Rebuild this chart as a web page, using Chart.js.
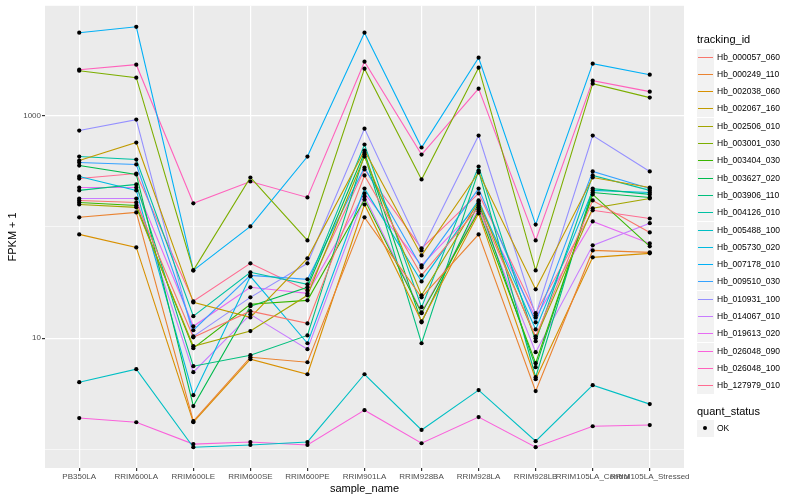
<!DOCTYPE html>
<html>
<head>
<meta charset="utf-8">
<script src="https://cdn.jsdelivr.net/npm/chart.js@4.4.0/dist/chart.umd.min.js"></script>
<style>
  body { margin: 0; background: #fff; font-family: "Liberation Sans", Arial, sans-serif; }
  #wrap { position: relative; width: 800px; height: 500px; }
  #legend { position: absolute; left: 0; top: 0; width: 800px; height: 500px; pointer-events: none; }
  .ttl { position: absolute; left: 697px; font-size: 11px; color: #000; }
  .key { position: absolute; left: 697px; width: 17px; height: 17px; background: #F2F2F2; }
  .key i { position: absolute; left: 1px; top: 8px; width: 15px; height: 1px; }
  .key b { position: absolute; left: 6px; top: 6px; width: 4px; height: 4px; border-radius: 2px; background: #000; }
  .lab { position: absolute; left: 717px; font-size: 8.5px; color: #000; line-height: 17px; }
</style>
</head>
<body>
<div id="wrap">
  <canvas id="chart" width="800" height="500"></canvas>
  <div id="legend"></div>
</div>
<script>
const categories = ["PB350LA", "RRIM600LA", "RRIM600LE", "RRIM600SE", "RRIM600PE", "RRIM901LA",
  "RRIM928BA", "RRIM928LA", "RRIM928LB", "RRIM105LA_Control", "RRIM105LA_Stressed"];
const yTickLabels = ["10", "1000"];
const statusLevels = ["OK"];

const trackingIds = ["Hb_000057_060", "Hb_000249_110", "Hb_002038_060", "Hb_002067_160", "Hb_002506_010",
  "Hb_003001_030", "Hb_003404_030", "Hb_003627_020", "Hb_003906_110", "Hb_004126_010",
  "Hb_005488_100", "Hb_005730_020", "Hb_007178_010", "Hb_009510_030", "Hb_010931_100",
  "Hb_014067_010", "Hb_019613_020", "Hb_026048_090", "Hb_026048_100", "Hb_127979_010"];

// FPKM + 1 per sample, one array per gene
const hb000057 = [173, 166, 10.2, 17.5, 13.6, 290, 36.7, 150, 10.4, 173, 89.3];
const hb000249 = [122, 135, 1.80, 6.75, 6.09, 122, 23.3, 85.7, 3.35, 61.5, 59.1];
const hb002038 = [85.7, 65.5, 1.76, 6.48, 4.75, 159, 14.2, 132, 4.29, 53.3, 57.9];
const hb002067 = [395, 573, 21.0, 15.4, 52.2, 486, 55.5, 308, 27.5, 278, 226];
const hb002506 = [159, 150, 8.48, 11.6, 24.3, 429, 24.3, 169, 10.0, 147, 180];
const hb003001 = [2533, 2193, 40.7, 278, 75.7, 2640, 267, 2696, 40.7, 1937, 1451];
const hb003404 = [166, 156, 8.14, 20.2, 21.9, 176, 16.8, 138, 5.97, 196, 66.9];
const hb003627 = [356, 296, 2.46, 19.4, 28.7, 466, 13.9, 163, 5.50, 204, 184];
const hb003906 = [213, 241, 5.61, 7.04, 10.6, 447, 9.02, 321, 4.47, 221, 196];
const hb004126 = [429, 403, 15.8, 39.1, 30.5, 550, 19.0, 349, 9.40, 290, 213];
const hb005488 = [4.03, 5.27, 1.05, 1.10, 1.17, 4.75, 1.50, 3.42, 1.19, 3.79, 2.56];
const hb005730 = [284, 213, 3.08, 36.0, 9.02, 221, 32.4, 173, 12.0, 213, 204];
const hb007178 = [5560, 6280, 40.7, 101, 429, 5560, 517, 3313, 105, 2928, 2332];
const hb009510 = [379, 364, 11.8, 36.7, 33.8, 342, 43.3, 221, 13.9, 315, 221];
const hb010931 = [734, 921, 10.4, 23.3, 47.1, 764, 61.5, 662, 16.1, 662, 315];
const hb014067 = [180, 180, 4.96, 16.4, 7.97, 188, 17.1, 144, 7.49, 68.3, 108];
const hb019613 = [226, 226, 12.8, 28.7, 25.3, 200, 45.1, 156, 15.4, 112, 71.1];
const hb026048a = [1.92, 1.76, 1.12, 1.17, 1.10, 2.26, 1.14, 1.96, 1.05, 1.62, 1.66];
const hb026048b = [2586, 2868, 163, 256, 184, 3051, 447, 1747, 75.7, 2061, 1642];
const hb127979 = [272, 302, 21.5, 47.1, 26.9, 328, 64.2, 200, 16.8, 141, 119];

const seriesValues = [hb000057, hb000249, hb002038, hb002067, hb002506, hb003001, hb003404,
  hb003627, hb003906, hb004126, hb005488, hb005730, hb007178, hb009510, hb010931,
  hb014067, hb019613, hb026048a, hb026048b, hb127979];

const colors = ["#F8766D", "#EA8331", "#D89000", "#C09B00", "#A3A500", "#7CAE00", "#39B600",
  "#00BB4E", "#00BF7D", "#00C1A3", "#00BFC4", "#00BAE0", "#00B0F6", "#35A2FF", "#9590FF",
  "#C77CFF", "#E76BF3", "#FA62DB", "#FF62BC", "#FF6C91"];

const datasets = seriesValues.map((vals, i) => ({
  label: trackingIds[i],
  data: vals.map((v, j) => ({ x: j, y: v })),
  borderColor: colors[i],
  borderWidth: 1.1,
  pointRadius: 0,
  fill: false,
  order: 1
}));

// all the points, drawn on top
let allPoints = [];
seriesValues.forEach(vals => vals.forEach((v, j) => allPoints.push({ x: j, y: v })));
datasets.push({
  label: "quant_status",
  data: allPoints,
  showLine: false,
  pointRadius: 2.1,
  pointBackgroundColor: "#000",
  pointBorderWidth: 0,
  order: 0
});

const panelBg = {
  id: "panelBg",
  beforeDraw(chart) {
    const a = chart.chartArea;
    const ctx = chart.ctx;
    ctx.save();
    ctx.fillStyle = "#EBEBEB";
    ctx.fillRect(a.left, a.top, a.right - a.left, a.bottom - a.top);
    ctx.restore();
  }
};

const isMajor = v => yTickLabels.includes(String(v));

new Chart(document.getElementById("chart"), {
  type: "line",
  data: { datasets: datasets },
  plugins: [panelBg],
  options: {
    responsive: false,
    animation: false,
    layout: { padding: { top: 5, right: 116, left: 0, bottom: 0 } },
    plugins: { legend: { display: false }, tooltip: { enabled: false } },
    scales: {
      x: {
        type: "linear",
        min: -0.6,
        max: 10.6,
        afterBuildTicks: s => { s.ticks = categories.map((c, i) => ({ value: i })); },
        afterFit: s => { s.height = 32; },
        ticks: {
          autoSkip: false, maxRotation: 0, padding: 1,
          color: "#4D4D4D", font: { family: "Liberation Sans", size: 8 },
          callback: v => categories[v]
        },
        grid: { color: "#FFFFFF", lineWidth: 1.2, tickLength: 3, tickColor: "#333333" },
        border: { display: false },
        title: { display: true, text: "sample_name", color: "#000", padding: { top: 0, bottom: 4 },
          font: { family: "Liberation Sans", size: 11 } }
      },
      y: {
        type: "logarithmic",
        min: 0.683,
        max: 9694,
        afterBuildTicks: s => { s.ticks = [1, 10, 100, 1000].map(v => ({ value: v })); },
        afterFit: s => { s.width = 45; },
        ticks: {
          autoSkip: false, padding: 1,
          color: "#4D4D4D", font: { family: "Liberation Sans", size: 8 },
          callback: v => isMajor(v) ? String(v) : ""
        },
        grid: {
          color: "#FFFFFF",
          lineWidth: c => isMajor(c.tick.value) ? 1.2 : 0.6,
          tickLength: 3,
          tickColor: c => isMajor(c.tick.value) ? "#333333" : "rgba(0,0,0,0)"
        },
        border: { display: false },
        title: { display: true, text: "FPKM + 1", color: "#000", padding: { top: 6, bottom: 2 },
          font: { family: "Liberation Sans", size: 11 } }
      }
    }
  }
});

// ggplot-style legend on the right
const leg = document.getElementById("legend");
let html = '<div class="ttl" style="top:33px">tracking_id</div>';
trackingIds.forEach((id, i) => {
  const top = Math.round(48.5 + i * 17.3);
  html += `<div class="key" style="top:${top}px"><i style="background:${colors[i]}"></i></div>`;
  html += `<div class="lab" style="top:${top}px">${id}</div>`;
});
html += '<div class="ttl" style="top:405px">quant_status</div>';
statusLevels.forEach((s, i) => {
  const top = Math.round(419.5 + i * 17.3);
  html += `<div class="key" style="top:${top}px"><b></b></div>`;
  html += `<div class="lab" style="top:${top}px">${s}</div>`;
});
leg.innerHTML = html;
</script>
</body>
</html>
